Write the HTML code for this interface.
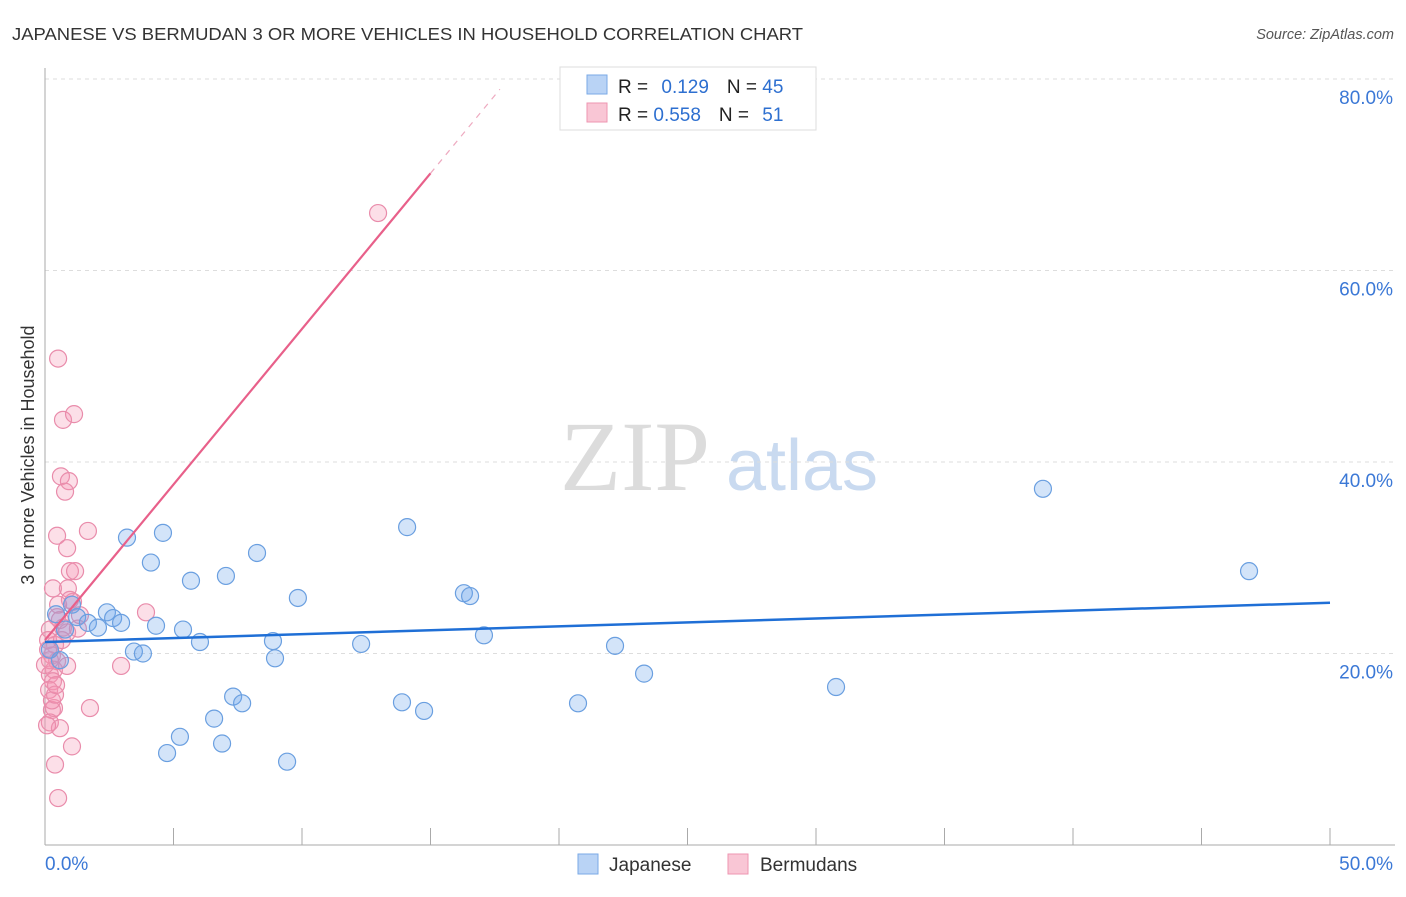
<!DOCTYPE html>
<html><head><meta charset="utf-8"><style>
body{margin:0;background:#fff;font-family:"Liberation Sans",sans-serif}
svg text{font-family:"Liberation Sans",sans-serif}
svg text.serif{font-family:"Liberation Serif",serif}
</style></head><body>
<svg width="1406" height="892" viewBox="0 0 1406 892">
<text x="12" y="40" font-size="17.5" fill="#333" textLength="791" lengthAdjust="spacingAndGlyphs">JAPANESE VS BERMUDAN 3 OR MORE VEHICLES IN HOUSEHOLD CORRELATION CHART</text>
<text x="1394" y="39" font-size="14.5" fill="#555" font-style="italic" text-anchor="end">Source: ZipAtlas.com</text>
<g>
<text class="serif" x="635" y="490" font-size="100" fill="#dcdcdc" text-anchor="middle">ZIP</text>
<text x="802" y="490" font-size="72" fill="#c9daf0" text-anchor="middle">atlas</text>
</g>
<g id="grid"></g>
<g id="axes"></g>
<g id="marks"></g>
<text transform="translate(34,455) rotate(-90)" font-size="18" fill="#333" text-anchor="middle">3 or more Vehicles in Household</text>
<g>
<rect x="560" y="67" width="256" height="63" fill="#fff" stroke="#ddd"/>
<rect x="587" y="75" width="20" height="19" fill="#b9d3f5" stroke="#7aa9e6"/>
<rect x="587" y="103" width="20" height="19" fill="#f9c6d5" stroke="#ee95b1"/>
<text x="618" y="93" font-size="19" fill="#222">R = <tspan fill="#2d6fd0" dx="8">0.129</tspan><tspan dx="18" fill="#222">N = </tspan><tspan fill="#2d6fd0">45</tspan></text>
<text x="618" y="121" font-size="19" fill="#222">R = <tspan fill="#2d6fd0">0.558</tspan><tspan dx="18" fill="#222">N = </tspan><tspan fill="#2d6fd0" dx="8">51</tspan></text>
</g>
<g>
<rect x="578" y="854" width="20" height="20" fill="#b9d3f5" stroke="#7aa9e6"/>
<text x="609" y="871" font-size="19" fill="#333">Japanese</text>
<rect x="728" y="854" width="20" height="20" fill="#f9c6d5" stroke="#ee95b1"/>
<text x="760" y="871" font-size="19" fill="#333">Bermudans</text>
</g>
</svg>
<script>
const yTicks=[20,40,60,80];
const yTickLabels=["20.0%","40.0%","60.0%","80.0%"];
const xTickLabels=["0.0%","50.0%"];
const japX=[0.43,1.05,1.25,1.67,2.06,2.41,2.65,2.96,3.19,3.46,3.81,4.12,4.32,4.59,4.75,5.25,5.37,5.68,6.03,6.58,6.89,7.04,7.32,7.67,8.25,8.87,8.95,9.42,9.84,12.3,13.89,14.09,14.75,16.3,16.54,17.08,20.74,22.18,23.31,30.78,38.83,46.85,0.58,0.19,0.78];
const japY=[24.1,25.1,23.8,23.2,22.7,24.3,23.7,23.2,32.1,20.2,20.0,29.5,22.9,32.6,9.6,11.3,22.5,27.6,21.2,13.2,10.6,28.1,15.5,14.8,30.5,21.3,19.5,8.7,25.8,21.0,14.9,33.2,14.0,26.3,26.0,21.9,14.8,20.8,17.9,16.5,37.2,28.6,19.3,20.4,22.5];
const berX=[0.51,0.70,1.13,0.62,0.93,0.78,0.47,0.86,1.67,0.97,1.17,0.31,0.89,3.93,1.09,0.47,0.70,0.86,1.28,0.39,0.27,0.47,0.35,0.86,0.19,0.31,0.16,2.96,0.27,0.35,1.75,0.19,0.58,1.05,0.39,0.51,12.96,0.58,1.36,0.19,0.12,0.27,0.39,0.19,0.12,0.66,0.43,0.97,0,0.08,0.51];
const berY=[50.8,44.4,45.0,38.5,38.0,36.9,32.3,31.0,32.8,28.6,28.6,26.8,26.8,24.3,25.4,23.8,22.7,22.2,22.6,20.9,19.8,19.2,18.3,18.7,17.8,17.1,16.2,18.7,14.1,14.3,14.3,12.8,12.2,10.3,8.4,4.9,66.0,23.5,24.0,22.5,21.4,15.1,15.7,19.3,20.4,21.4,16.7,25.6,18.8,12.5,25.1];
const japTrend=[21.2,25.3];
const berTrend=[21.4,3.25];
const X0=45,X1=1330,Y0=845;
function sx(v){return X0+v/50*(X1-X0);}
function sy(v){return Y0-v*9.575;}
const NS="http://www.w3.org/2000/svg";
function mk(p,t,a){const e=document.createElementNS(NS,t);for(const k in a)e.setAttribute(k,a[k]);p.appendChild(e);return e;}
const grid=document.getElementById('grid'),axes=document.getElementById('axes'),marks=document.getElementById('marks');
yTicks.forEach((t,i)=>{
 const l=mk(grid,'line',{x1:45,x2:1395,y1:sy(t),y2:sy(t),stroke:'#ddd','stroke-dasharray':'4,4'});
 
 
 const tx=mk(axes,'text',{x:1393,y:sy(t)+25,'font-size':19,fill:'#3b78d6','text-anchor':'end'});
 tx.textContent=yTickLabels[i];
 
 
});
const ya=mk(axes,'line',{x1:45,x2:45,y1:68,y2:845,stroke:'#aaa'});


const xa=mk(axes,'line',{x1:45,x2:1395,y1:845,y2:845,stroke:'#aaa'});


for(let i=0;i<=10;i++){
 const t=mk(axes,'line',{x1:sx(i*5),x2:sx(i*5),y1:828,y2:845,stroke:'#aaa'});
 
 
}
[[0,'start',45],[50,'end',1393]].forEach((d,i)=>{
 const tx=mk(axes,'text',{x:d[2],y:870,'font-size':19,fill:'#3b78d6','text-anchor':d[1]});
 tx.textContent=xTickLabels[i];
 
 
});
function dots(xs,ys,fill,stroke,name){
 xs.forEach((x,i)=>{
  const c=mk(marks,'circle',{cx:sx(x),cy:sy(ys[i]),r:8.5,fill:fill,stroke:stroke,'stroke-width':1.2});
  
  
 });
}
dots(berX,berY,'rgba(244,150,180,0.3)','#e98cab','bermudans-point');
dots(japX,japY,'rgba(110,165,235,0.3)','#6a9fe0','japanese-point');
const jl=mk(marks,'line',{x1:sx(0),y1:sy(japTrend[0]),x2:sx(50),y2:sy(japTrend[1]),stroke:'#1f6fd6','stroke-width':2.5});


const bl=mk(marks,'line',{x1:sx(0),y1:sy(berTrend[0]),x2:sx(15),y2:sy(berTrend[0]+berTrend[1]*15),stroke:'#e8608a','stroke-width':2.2});


const bd=mk(marks,'line',{x1:sx(15),y1:sy(berTrend[0]+berTrend[1]*15),x2:sx(17.7),y2:sy(berTrend[0]+berTrend[1]*17.7),stroke:'#eeaac0','stroke-width':1.2,'stroke-dasharray':'6,6'});


</script>
</body></html>
